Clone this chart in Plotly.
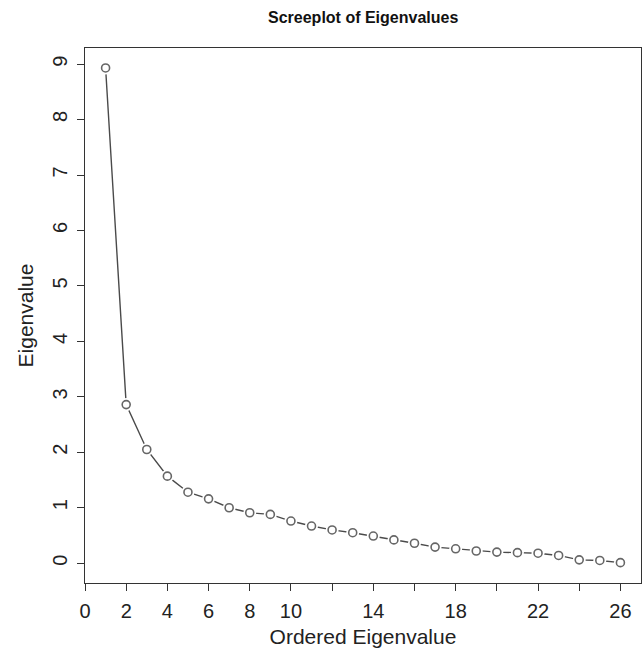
import plotly.graph_objects as go

order = list(range(1, 27))
eigenvalues = [8.93, 2.86, 2.05, 1.57, 1.28, 1.16, 1.00, 0.91, 0.88, 0.76,
               0.67, 0.60, 0.55, 0.49, 0.42, 0.36, 0.29, 0.26, 0.22, 0.20,
               0.19, 0.18, 0.14, 0.06, 0.05, 0.01]

x_tickvals = list(range(0, 27, 2))
x_ticktext = ["0", "2", "4", "6", "8", "10", "", "14", "", "18", "", "22", "", "26"]
y_tickvals = list(range(0, 10))

FONT = "Liberation Sans, Arial, Helvetica, sans-serif"
LINE = "#4a4a4a"
MARK = "#666666"

fig = go.Figure()
fig.add_trace(go.Scatter(x=order, y=eigenvalues, mode="lines",
                         line=dict(color=LINE, width=1.4), hoverinfo="skip"))
fig.add_trace(go.Scatter(x=order, y=eigenvalues, mode="markers",
                         marker=dict(size=13, color="white", line=dict(width=0)),
                         hoverinfo="skip"))
fig.add_trace(go.Scatter(x=order, y=eigenvalues, mode="markers",
                         marker=dict(size=8, color="white", symbol="circle",
                                     line=dict(color=MARK, width=1.6))))

axis_common = dict(showgrid=False, zeroline=False, showline=True, mirror=True,
                   linecolor="#333333", linewidth=1, ticks="outside", ticklen=7,
                   tickcolor="#333333", tickfont=dict(family=FONT, size=20, color="#222222"))

fig.update_layout(
    width=643, height=652,
    margin=dict(l=85, r=2, t=48, b=69),
    paper_bgcolor="white", plot_bgcolor="white",
    showlegend=False,
    title=dict(text="<b>Screeplot of Eigenvalues</b>", x=0.5648, xref="container",
               y=1 - 17/652, yref="container", xanchor="center", yanchor="middle",
               font=dict(family=FONT, size=16, color="#111111")),
    xaxis=dict(range=[0, 27], tickvals=x_tickvals, ticktext=x_ticktext,
               title=dict(text="Ordered Eigenvalue", standoff=8,
                          font=dict(family=FONT, size=21, color="#222222")),
               ticklabelstandoff=3, **axis_common),
    yaxis=dict(range=[-0.357, 9.29], tickvals=y_tickvals, tickangle=-90,
               title=dict(text="Eigenvalue", standoff=9,
                          font=dict(family=FONT, size=21, color="#222222")),
               ticklabelstandoff=2, **axis_common),
)

fig.write_html("out.html")
